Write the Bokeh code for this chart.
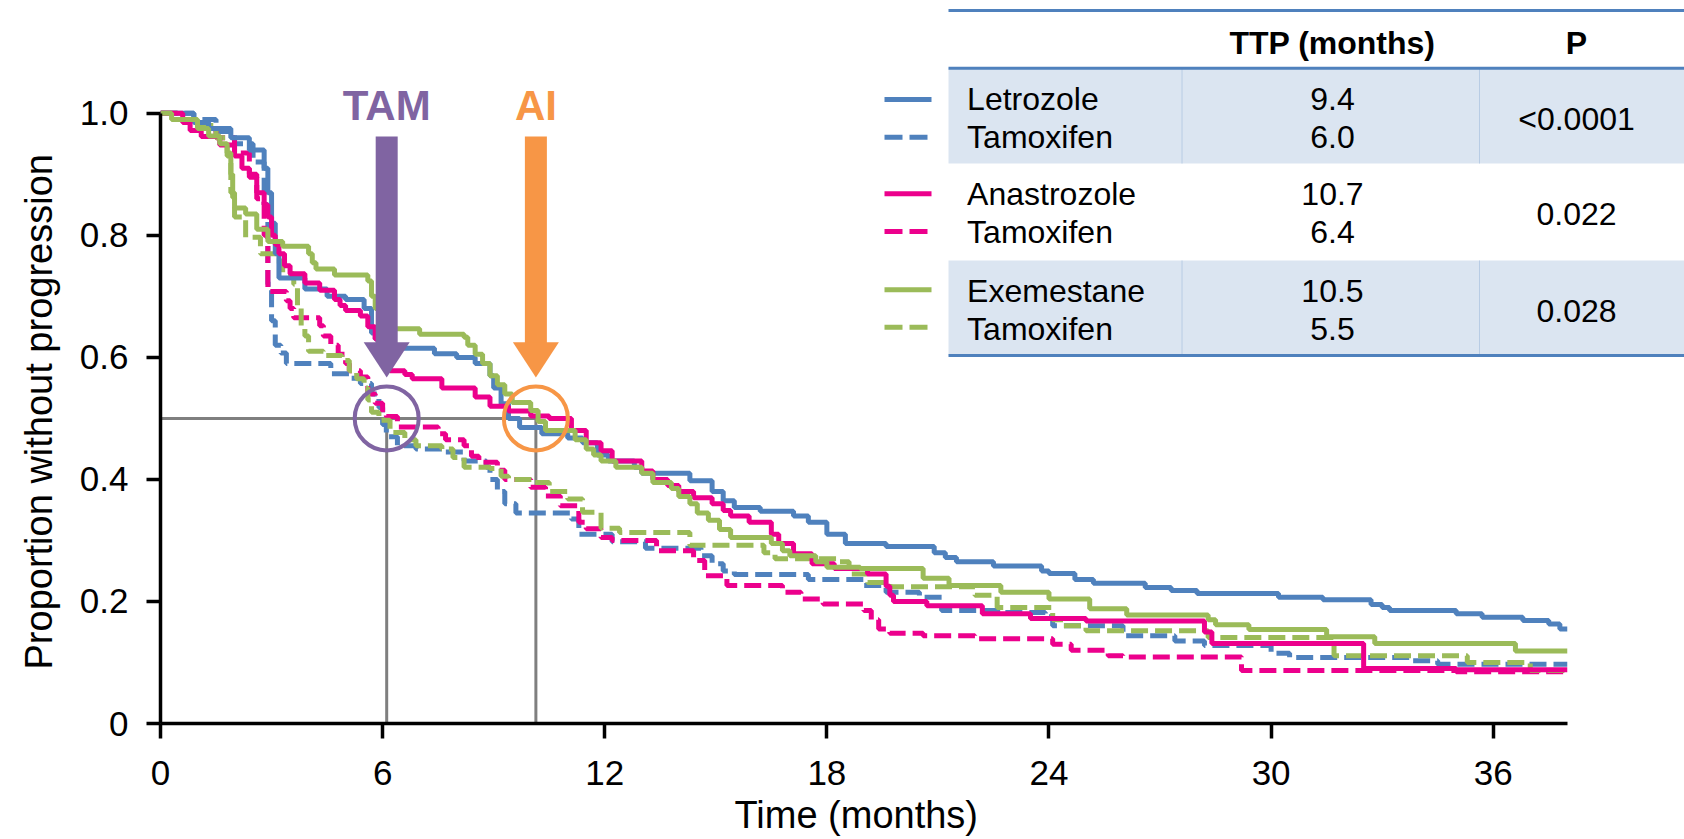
from bokeh.plotting import figure
from bokeh.models import Range1d, FixedTicker, CustomJSTickFormatter, Title
from bokeh.core.properties import value
from bokeh.embed import file_html
from bokeh.resources import INLINE

# ---------------- data ----------------
LET_T = [0, 0.9, 1.3, 1.9, 2.4, 2.8, 2.9, 3.0, 3.1, 3.2, 3.9, 4.5, 5.0, 5.5, 5.7, 5.8, 6.0, 7.4, 8.0,
         8.5, 8.9, 9.0, 9.2, 9.4, 9.7, 10.3, 11.0, 11.4, 11.8, 12.1, 12.8, 13.0, 14.3, 14.9, 15.2,
         15.5, 16.2, 17.1, 17.5, 18.0, 18.5, 19.6, 20.9, 21.2, 21.5, 22.5, 23.8, 24.0, 24.7, 25.2,
         26.6, 27.3, 28.0, 30.2, 31.4, 32.7, 33.0, 33.2, 35.0, 35.7, 36.8, 37.5, 37.8]
LET_S = [1.0, 0.985, 0.975, 0.96, 0.94, 0.91, 0.87, 0.82, 0.77, 0.73, 0.712, 0.70, 0.695, 0.68, 0.64,
         0.63, 0.615, 0.606, 0.60, 0.59, 0.57, 0.55, 0.524, 0.50, 0.485, 0.475, 0.468, 0.46, 0.44,
         0.43, 0.42, 0.41, 0.398, 0.38, 0.365, 0.354, 0.348, 0.34, 0.33, 0.31, 0.295, 0.29, 0.28,
         0.272, 0.265, 0.258, 0.25, 0.246, 0.236, 0.23, 0.223, 0.218, 0.213, 0.207, 0.203, 0.195,
         0.19, 0.185, 0.18, 0.174, 0.169, 0.163, 0.155]

LTAM_T = [0, 0.9, 1.5, 2.0, 2.5, 2.8, 2.9, 3.0, 3.1, 3.25, 3.4, 4.6, 5.1, 5.4, 5.7, 5.9, 6.0, 6.1,
          6.4, 6.9, 7.6, 8.2, 8.8, 8.9, 9.1, 9.3, 9.6, 11.1, 11.3, 12.2, 13.1, 14.6, 14.9, 15.2,
          15.5, 17.5, 19.0, 19.6, 20.5, 21.1, 22.8, 23.9, 24.1, 26.0, 27.4, 28.2, 30.0, 30.5, 33.8,
          34.5]
LTAM_S = [1.0, 0.99, 0.97, 0.95, 0.92, 0.85, 0.72, 0.66, 0.62, 0.607, 0.59, 0.573, 0.566, 0.557,
          0.54, 0.518, 0.49, 0.47, 0.455, 0.45, 0.445, 0.43, 0.42, 0.40, 0.38, 0.36, 0.345, 0.335,
          0.31, 0.298, 0.287, 0.275, 0.262, 0.25, 0.244, 0.236, 0.226, 0.215, 0.207, 0.185, 0.182,
          0.175, 0.16, 0.144, 0.135, 0.128, 0.115, 0.108, 0.103, 0.097]

ANA_T = [0, 0.6, 0.8, 1.1, 1.6, 2.0, 2.2, 2.4, 2.6, 2.8, 2.9, 3.0, 3.1, 3.2, 3.35, 3.5, 3.9, 4.3,
         4.7, 4.85, 5.0, 5.4, 5.6, 5.8, 6.0, 6.2, 6.6, 6.8, 7.6, 8.5, 8.9, 9.4, 10.0, 10.5, 11.1,
         11.5, 11.9, 12.2, 13.0, 13.3, 13.7, 14.0, 14.4, 14.9, 15.2, 15.4, 15.9, 16.5, 16.7, 17.1,
         17.6, 18.2, 19.1, 19.6, 19.7, 19.8, 20.7, 22.2, 23.5, 25.0, 28.2, 28.4, 32.5, 35.0]
ANA_S = [1.0, 0.985, 0.972, 0.962, 0.948, 0.93, 0.91, 0.895, 0.87, 0.85, 0.83, 0.80, 0.785, 0.77,
         0.75, 0.737, 0.722, 0.71, 0.695, 0.685, 0.677, 0.668, 0.65, 0.63, 0.60, 0.578, 0.572,
         0.565, 0.55, 0.535, 0.52, 0.512, 0.504, 0.50, 0.48, 0.46, 0.447, 0.43, 0.414, 0.40, 0.39,
         0.38, 0.37, 0.36, 0.349, 0.34, 0.33, 0.31, 0.295, 0.278, 0.262, 0.254, 0.245, 0.225, 0.21,
         0.20, 0.193, 0.18, 0.172, 0.168, 0.15, 0.131, 0.09, 0.088]

ATAM_T = [0, 0.5, 1.0, 1.5, 2.0, 2.4, 2.6, 2.8, 2.9, 3.4, 3.5, 3.6, 4.3, 4.4, 4.6, 4.8, 5.0, 5.1,
          5.4, 5.6, 5.8, 6.0, 6.1, 6.4, 7.5, 7.7, 8.2, 8.4, 8.6, 9.1, 9.3, 10.0, 10.4, 10.8, 11.3,
          11.5, 11.9, 12.2, 13.4, 14.4, 14.7, 15.3, 16.8, 17.3, 17.9, 19.0, 19.2, 19.4, 19.7, 20.6,
          22.0, 24.1, 24.6, 25.6, 26.0, 29.2, 35.0]
ATAM_S = [1.0, 0.99, 0.975, 0.96, 0.935, 0.90, 0.86, 0.80, 0.708, 0.693, 0.68, 0.665, 0.652, 0.635,
          0.62, 0.605, 0.59, 0.578, 0.568, 0.54, 0.525, 0.51, 0.503, 0.486, 0.475, 0.465, 0.455,
          0.438, 0.428, 0.415, 0.40, 0.387, 0.373, 0.357, 0.33, 0.319, 0.305, 0.30, 0.283, 0.267,
          0.242, 0.226, 0.215, 0.204, 0.196, 0.185, 0.17, 0.155, 0.148, 0.144, 0.139, 0.13, 0.12,
          0.111, 0.109, 0.087, 0.085]

EXE_T = [0, 0.3, 1.0, 1.3, 1.6, 1.8, 1.9, 1.95, 2.0, 2.3, 2.6, 2.9, 3.3, 4.0, 4.1, 4.2, 4.7, 5.6,
         5.7, 5.8, 6.0, 6.3, 7.0, 8.2, 8.3, 8.5, 8.7, 8.9, 9.1, 9.3, 9.5, 10.0, 10.2, 10.4, 11.2,
         11.5, 11.7, 11.9, 12.3, 13.0, 13.3, 13.8, 14.0, 14.3, 14.5, 14.8, 15.1, 15.4, 16.5, 16.8,
         17.0, 17.7, 18.0, 18.9, 20.6, 21.3, 22.7, 24.0, 25.1, 26.1, 28.3, 28.5, 29.4, 31.5, 32.8,
         36.6]
EXE_S = [1.0, 0.99, 0.975, 0.963, 0.95, 0.935, 0.90, 0.862, 0.845, 0.835, 0.81, 0.79, 0.782, 0.77,
         0.755, 0.745, 0.735, 0.725, 0.70, 0.68, 0.665, 0.647, 0.638, 0.633, 0.62, 0.605, 0.59,
         0.57, 0.555, 0.54, 0.526, 0.513, 0.495, 0.48, 0.465, 0.45, 0.44, 0.43, 0.42, 0.41, 0.395,
         0.385, 0.372, 0.36, 0.345, 0.333, 0.318, 0.305, 0.295, 0.283, 0.275, 0.265, 0.256, 0.254,
         0.238, 0.226, 0.215, 0.204, 0.188, 0.178, 0.17, 0.162, 0.154, 0.142, 0.131, 0.119]

ETAM_T = [0, 0.5, 1.0, 1.5, 1.8, 1.9, 2.0, 2.3, 2.7, 3.1, 3.3, 3.6, 3.7, 3.8, 3.9, 4.0, 4.4, 4.9,
          5.1, 5.3, 5.5, 5.6, 5.7, 5.9, 6.2, 6.6, 6.9, 7.6, 7.9, 8.2, 8.9, 9.2, 9.4, 10.1, 10.5,
          11.0, 11.4, 11.9, 12.4, 14.3, 16.3, 16.6, 18.3, 18.6, 19.1, 19.7, 22.0, 22.6, 24.1, 24.4,
          25.0, 28.3, 31.7, 35.3, 37.0]
ETAM_S = [1.0, 0.99, 0.98, 0.96, 0.93, 0.87, 0.83, 0.797, 0.77, 0.758, 0.737, 0.72, 0.68, 0.65,
          0.635, 0.61, 0.603, 0.595, 0.578, 0.565, 0.55, 0.53, 0.51, 0.497, 0.477, 0.465, 0.455,
          0.45, 0.436, 0.42, 0.418, 0.405, 0.40, 0.395, 0.38, 0.368, 0.346, 0.32, 0.313, 0.292,
          0.28, 0.27, 0.265, 0.245, 0.231, 0.224, 0.21, 0.19, 0.17, 0.16, 0.152, 0.141, 0.111, 0.10,
          0.087]

X_LAST = 38.0
X_TICKS = [0, 6, 12, 18, 24, 30, 36]
Y_TICKS = [0, 0.2, 0.4, 0.6, 0.8, 1.0]
MEDIAN_TAM = 6.11
MEDIAN_AI = 10.14
HALF = 0.5

X_TITLE = "Time (months)"
Y_TITLE = "Proportion without progression"
TABLE_HEAD = ["TTP (months)", "P"]
DRUGS = ["Letrozole", "Tamoxifen", "Anastrozole", "Tamoxifen", "Exemestane", "Tamoxifen"]
TTP = ["9.4", "6.0", "10.7", "6.4", "10.5", "5.5"]
PVALS = ["<0.0001", "0.022", "0.028"]

BLUE, PINK, GREEN = "#4F81BD", "#EC008C", "#9BBB59"
PURPLE, ORANGE, GREY = "#8064A2", "#F79646", "#7F7F7F"
FONT = "Liberation Sans"

# ---------------- geometry ----------------
W, H = 1684, 839
LEFT, BOTTOM = 160, 116
PPM = 37.02      # px per month
PPU = 610.2      # px per unit proportion
X_END = (W - LEFT) / PPM
Y_END = (H - BOTTOM) / PPU


def dx(px):
    return (px - LEFT) / PPM


def dy(py):
    return (H - BOTTOM - py) / PPU


p = figure(width=W, height=H, x_range=Range1d(0, X_END), y_range=Range1d(0, Y_END),
           output_backend="svg", toolbar_location=None,
           min_border_left=LEFT, min_border_bottom=BOTTOM, min_border_top=0, min_border_right=0)
p.outline_line_color = None
p.grid.visible = False
p.background_fill_color = "white"
p.border_fill_color = "white"

for ax in (p.xaxis[0], p.yaxis[0]):
    ax.axis_line_width = 3.5
    ax.axis_line_color = "black"
    ax.major_tick_line_width = 3.5
    ax.major_tick_line_color = "black"
    ax.major_tick_in = 0
    ax.major_tick_out = 15
    ax.minor_tick_line_color = None
    ax.major_label_text_font = FONT
    ax.major_label_text_font_size = "35px"
    ax.major_label_text_color = "black"

p.xaxis.ticker = FixedTicker(ticks=X_TICKS)
p.xaxis.bounds = (0, X_LAST)
p.xaxis.major_label_standoff = 22

p.yaxis.ticker = FixedTicker(ticks=Y_TICKS)
p.yaxis.bounds = (0, 1.0)
p.yaxis.major_tick_out = 14
p.yaxis.major_label_standoff = 18
p.yaxis.formatter = CustomJSTickFormatter(code="return tick == 0 ? '0' : tick.toFixed(1);")

# axis titles: start-aligned with a pixel offset so they sit centred on the drawn axis lines
p.add_layout(Title(text=Y_TITLE, align="left", offset=54, vertical_align="middle", standoff=31,
                   text_font=FONT, text_font_size="38px", text_font_style="normal",
                   text_color="black"), "left")
p.add_layout(Title(text=X_TITLE, align="left", offset=574, vertical_align="bottom", standoff=8,
                   text_font=FONT, text_font_size="38px", text_font_style="normal",
                   text_color="black"), "below")

# reference lines at the medians
p.segment(x0=[0, MEDIAN_TAM, MEDIAN_AI], y0=[HALF, 0, 0],
          x1=[MEDIAN_AI, MEDIAN_TAM, MEDIAN_AI], y1=[HALF, HALF, HALF],
          line_color=GREY, line_width=3)


def stepxy(t, s):
    return list(t) + [X_LAST], list(s) + [s[-1]]


DASH = "17 7"
series = [
    (LTAM_T, LTAM_S, BLUE, DASH),
    (ATAM_T, ATAM_S, PINK, DASH),
    (ETAM_T, ETAM_S, GREEN, DASH),
    (LET_T, LET_S, BLUE, "solid"),
    (ANA_T, ANA_S, PINK, "solid"),
    (EXE_T, EXE_S, GREEN, "solid"),
]
for t, s, c, d in series:
    xs, ys = stepxy(t, s)
    p.step(xs, ys, mode="after", line_color=c, line_width=5, line_dash=d)

# circles at the medians
p.scatter([MEDIAN_TAM, MEDIAN_AI], [HALF, HALF], marker="circle", size=64,
          fill_color=None, line_color=[PURPLE, ORANGE], line_width=4)

# arrows
shaft_half = 11 / PPM
head_half = 23 / PPM
for xm, col, lab in ((MEDIAN_TAM, PURPLE, "TAM"), (MEDIAN_AI, ORANGE, "AI")):
    p.quad(left=[xm - shaft_half], right=[xm + shaft_half], top=[dy(136)], bottom=[dy(342.5)],
           fill_color=col, line_color=None)
    p.patch([xm - head_half, xm + head_half, xm], [dy(341.7), dy(341.7), dy(377)],
            fill_color=col, line_color=None)
    p.text([xm], [dy(105)], text=[lab], text_color=col, text_font=value(FONT),
           text_font_size="42px", text_font_style="bold", text_align="center",
           text_baseline="middle")

# ---------------- table ----------------
TL, TR = dx(948), dx(1690)
C1, C2 = dx(1181.5), dx(1479)
p.quad(left=[TL, TL], right=[TR, TR], top=[dy(67.7), dy(260)], bottom=[dy(163), dy(355)],
       fill_color="#DBE5F1", line_color=None)
p.segment(x0=[C1, C2, C1, C2], x1=[C1, C2, C1, C2],
          y0=[dy(67.7), dy(67.7), dy(260), dy(260)], y1=[dy(163), dy(163), dy(355), dy(355)],
          line_color="#B8CCE4", line_width=1)
p.segment(x0=[TL] * 3, x1=[TR] * 3, y0=[dy(10), dy(67.7), dy(355)], y1=[dy(10), dy(67.7), dy(355)],
          line_color=BLUE, line_width=3)

p.text([dx(1332), dx(1576)], [dy(42), dy(42)], text=TABLE_HEAD, text_font=value(FONT),
       text_font_size="32px", text_font_style="bold", text_align="center",
       text_baseline="middle", text_color="black")

row_y = [dy(v) for v in (98.3, 136.7, 193, 231.7, 290, 328.3)]
p.text([dx(966.6)] * 6, row_y, text=DRUGS, text_font=value(FONT), text_font_size="32px",
       text_align="left", text_baseline="middle", text_color="black")
p.text([dx(1332)] * 6, row_y, text=TTP, text_font=value(FONT), text_font_size="32px",
       text_align="center", text_baseline="middle", text_color="black")
p.text([dx(1576)] * 3, [dy(v) for v in (118.3, 213.3, 310)], text=PVALS, text_font=value(FONT),
       text_font_size="32px", text_align="center", text_baseline="middle", text_color="black")

# legend samples
LEG_Y = [dy(v) for v in (99, 136.7, 193.3, 231, 289.3, 326.7)]
for i, (t, s, c, d) in enumerate([series[3], series[0], series[4], series[1], series[5], series[2]]):
    if d == "solid":
        p.line([dx(884), dx(931)], [LEG_Y[i]] * 2, line_color=c, line_width=5)
    else:
        p.line([dx(884), dx(928)], [LEG_Y[i]] * 2, line_color=c, line_width=5, line_dash="18 7")

open("out.html", "w").write(file_html(p, INLINE))
